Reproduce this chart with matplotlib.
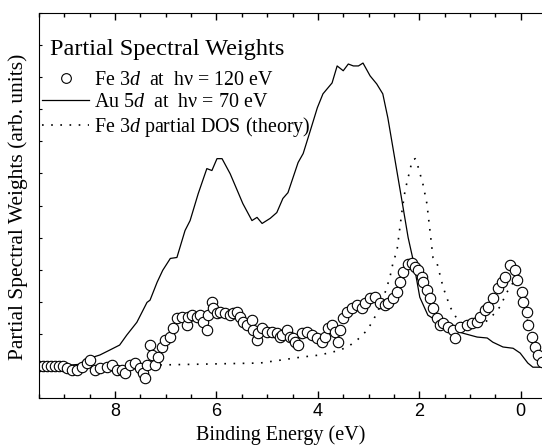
import matplotlib
matplotlib.use('Agg')
import matplotlib.pyplot as plt
from matplotlib.lines import Line2D
from matplotlib.ticker import MultipleLocator

plt.rcParams['font.family'] = ['Liberation Serif', 'DejaVu Serif']
plt.rcParams['mathtext.fontset'] = 'custom'
plt.rcParams['mathtext.rm'] = 'Liberation Serif'
plt.rcParams['mathtext.it'] = 'Liberation Serif:italic'

# Fe 3d at hv = 120 eV (circles)
fe_x = [9.50, 9.42, 9.34, 9.26, 9.18, 9.10, 9.03, 8.95, 8.85, 8.75, 8.65, 8.55, 8.49,
        8.40, 8.30, 8.16, 8.06, 7.96, 7.86, 7.80, 7.70, 7.60, 7.51, 7.45, 7.41, 7.37,
        7.31, 7.27, 7.21, 7.15, 7.08, 7.02, 6.92, 6.86, 6.78, 6.68, 6.58, 6.56, 6.48,
        6.38, 6.32, 6.26, 6.18, 6.16, 6.09, 6.07, 5.99, 5.93, 5.83, 5.73, 5.67, 5.59,
        5.53, 5.48, 5.40, 5.30, 5.28, 5.20, 5.18, 5.10, 5.00, 4.91, 4.81, 4.75, 4.71,
        4.61, 4.55, 4.49, 4.45, 4.39, 4.31, 4.21, 4.12, 4.02, 3.92, 3.86, 3.80, 3.72,
        3.66, 3.60, 3.56, 3.50, 3.43, 3.33, 3.23, 3.13, 3.07, 2.97, 2.87, 2.78, 2.68,
        2.62, 2.52, 2.44, 2.38, 2.32, 2.22, 2.14, 2.08, 2.03, 1.95, 1.93, 1.85, 1.79,
        1.73, 1.65, 1.59, 1.53, 1.43, 1.34, 1.30, 1.20, 1.06, 0.96, 0.86, 0.80, 0.70,
        0.64, 0.55, 0.45, 0.37, 0.31, 0.21, 0.11, 0.07, -0.03, -0.05, -0.12, -0.14,
        -0.22, -0.28, -0.34, -0.42]
fe_y = [0.99, 0.99, 0.99, 0.99, 0.99, 0.99, 0.99, 0.93, 0.87, 0.87, 0.96, 1.09, 1.18,
        0.87, 0.93, 0.96, 1.03, 0.87, 0.87, 0.78, 1.03, 1.09, 0.93, 0.78, 0.62, 1.03,
        1.65, 1.34, 1.03, 1.27, 1.59, 1.80, 1.90, 2.18, 2.49, 2.52, 2.27, 2.52, 2.58,
        2.52, 2.58, 2.36, 2.11, 2.58, 2.98, 2.80, 2.64, 2.67, 2.64, 2.58, 2.64, 2.67,
        2.52, 2.36, 2.27, 2.42, 2.11, 1.80, 2.02, 2.18, 2.05, 2.05, 2.02, 1.90, 1.96,
        2.11, 1.90, 1.87, 1.74, 1.65, 2.02, 2.05, 1.96, 1.87, 1.74, 1.90, 2.18, 2.27,
        2.05, 1.74, 2.11, 2.49, 2.67, 2.80, 2.89, 2.80, 2.95, 3.11, 3.14, 2.95, 2.89,
        2.95, 3.11, 3.30, 3.61, 3.92, 4.17, 4.20, 4.07, 3.98, 3.76, 3.61, 3.36, 3.11,
        2.80, 2.49, 2.27, 2.33, 2.21, 2.11, 1.87, 2.21, 2.27, 2.33, 2.36, 2.52, 2.74,
        2.83, 3.11, 3.42, 3.61, 3.76, 4.13, 3.98, 3.67, 3.30, 2.98, 2.67, 2.27,
        1.90, 1.59, 1.34, 1.12]

# Au 5d at hv = 70 eV (solid line)
au_x = [9.50, 9.09, 8.70, 8.54, 8.44, 8.30, 8.11, 7.91, 7.77, 7.57, 7.37, 7.31, 7.17,
        7.06, 6.91, 6.78, 6.62, 6.52, 6.36, 6.19, 6.09, 5.99, 5.89, 5.73, 5.59, 5.48,
        5.30, 5.20, 5.10, 4.94, 4.81, 4.69, 4.59, 4.39, 4.29, 4.15, 4.01, 3.90, 3.72,
        3.62, 3.50, 3.40, 3.30, 3.20, 3.11, 2.97, 2.84, 2.72, 2.62, 2.52, 2.42, 2.32,
        2.22, 2.12, 1.99, 1.83, 1.45, 1.14, 0.86, 0.66, 0.55, 0.35, 0.15, 0.01, -0.14,
        -0.24, -0.42]
au_y = [1.00, 1.00, 1.05, 1.25, 1.27, 1.34, 1.49, 1.65, 1.96, 2.36, 2.98, 3.05, 3.61,
        3.98, 4.35, 4.38, 5.22, 5.53, 6.37, 7.15, 7.09, 7.46, 7.46, 6.99, 6.47, 6.06,
        5.53, 5.63, 5.44, 5.60, 5.78, 6.22, 6.40, 7.34, 7.62, 8.33, 9.05, 9.48, 9.82,
        10.35, 10.20, 10.41, 10.35, 10.35, 10.44, 10.04, 9.79, 9.48, 8.73, 7.80, 6.87,
        5.94, 5.00, 4.29, 3.14, 2.58, 2.21, 2.02, 1.90, 1.87, 1.74, 1.59, 1.55, 1.40,
        1.09, 0.96, 0.96]

# Fe 3d partial DOS (theory, dotted)
dos_x = [7.11, 5.14, 4.74, 4.35, 3.96, 3.56, 3.36, 3.21, 3.03, 2.91, 2.78, 2.68, 2.58,
         2.52, 2.44, 2.34, 2.28, 2.22, 2.14, 2.08, 2.03, 1.93, 1.85, 1.79, 1.73, 1.65,
         1.53, 1.39, 1.24, 1.06, 0.86, 0.70, 0.55, 0.41, 0.27, 0.17, 0.11, 0.05, -0.05,
         -0.15, -0.30, -0.42]
dos_y = [1.03, 1.09, 1.18, 1.27, 1.34, 1.49, 1.65, 1.83, 2.11, 2.42, 2.83, 3.26, 3.76,
         4.20, 4.60, 5.84, 6.47, 6.87, 7.40, 7.46, 7.24, 6.68, 6.06, 5.22, 4.38, 4.20,
         3.45, 2.83, 2.42, 2.24, 2.21, 2.36, 2.58, 2.84, 3.30, 3.55, 3.65, 3.57, 2.98,
         2.30, 1.70, 1.40]

labels = ['Fe 3$d$  at  h\u03bd = 120 eV',
          'Au 5$d$  at  h\u03bd = 70 eV',
          'Fe 3$d$ partial DOS (theory)']

fig = plt.figure(figsize=(5.42, 4.45), dpi=100)
ax = fig.add_axes([39 / 542, 47 / 445, 503 / 542, 385 / 445])

ax.plot(dos_x, dos_y, color='black', lw=1.2, linestyle=(0, (1, 4.5)))
ax.plot(au_x, au_y, color='black', lw=0.9)
ax.plot(fe_x, fe_y, linestyle='none', marker='o', ms=7.5, mfc='white',
        mec='black', mew=0.8)

ax.set_xlim(9.5, -0.42)
ax.set_ylim(0, 12)
ax.spines['right'].set_visible(False)
ax.xaxis.set_minor_locator(MultipleLocator(0.5))
ax.yaxis.set_major_locator(MultipleLocator(1))
ax.tick_params(axis='x', which='major', direction='in', top=True, length=5, width=1)
ax.tick_params(axis='x', which='minor', direction='in', top=True, length=3, width=1)
ax.tick_params(axis='y', which='major', direction='in', right=False, length=2.5,
               labelleft=False)
ax.set_xticks([8, 6, 4, 2, 0])
ax.set_xticklabels(['8', '6', '4', '2', '0'], fontfamily='Liberation Sans', fontsize=13)

ax.set_xlabel('Binding Energy (eV)', fontsize=14.5)
ax.xaxis.set_label_coords(0.481, -0.07)
ax.set_ylabel('Partial Spectral Weights (arb. units)', fontsize=15.5)
ax.yaxis.set_label_coords(-0.022, 0.496)

ax.text(0.022, 0.905, 'Partial Spectral Weights', transform=ax.transAxes,
        fontsize=17.5, va='center', ha='left')

handles = [Line2D([], [], linestyle='none', marker='o', ms=7, mfc='white',
                  mec='black', mew=0.8),
           Line2D([], [], color='black', lw=0.9),
           Line2D([], [], color='black', lw=1.2, linestyle=(0, (1, 4.5)))]
ax.legend(handles, labels, loc='upper left', bbox_to_anchor=(0.006, 0.85),
          frameon=False, fontsize=14.4, borderpad=0, borderaxespad=0,
          handlelength=2.35, handletextpad=0.25, labelspacing=0.15)

fig.savefig('out.png', dpi=100)
